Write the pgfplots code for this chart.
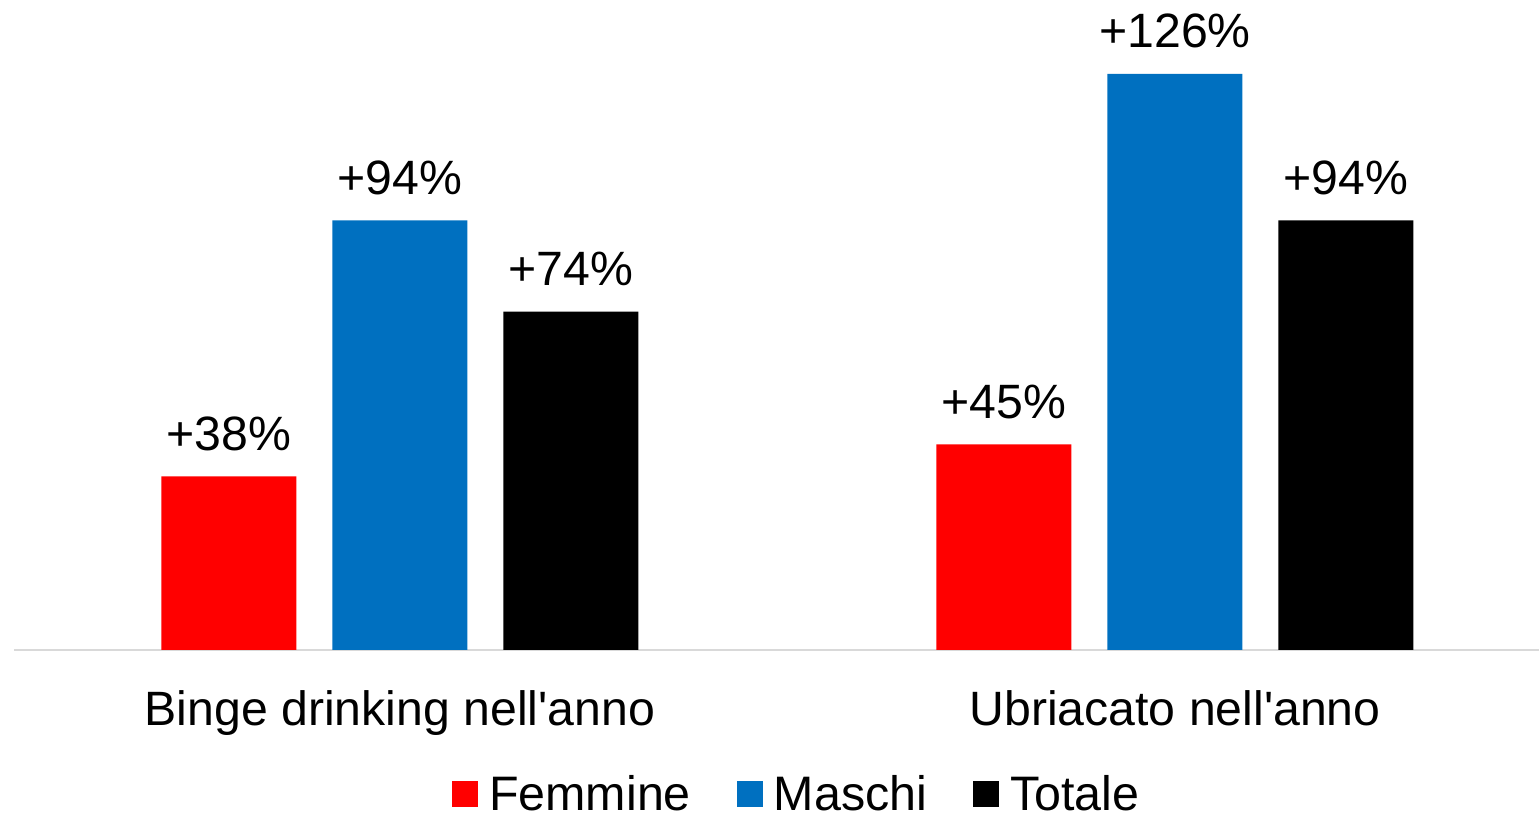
\documentclass[border=0pt]{standalone}
\usepackage{fontspec}
\setmainfont{Liberation Sans}
\usepackage{pgfplots}
\pgfplotsset{compat=1.18}
\definecolor{cRed}{HTML}{FF0000}
\definecolor{cBlue}{HTML}{0070C0}
\definecolor{cBlack}{HTML}{000000}
\definecolor{cAxis}{HTML}{D9D9D9}
\begin{document}
\begin{tikzpicture}
\begin{axis}[
  at={(0,0)}, anchor=south west,
  scale only axis,
  width=762.5pt, height=320pt,
  ybar=18pt, bar width=67.5pt,
  xmin=-0.498, xmax=1.4697,
  ymin=0, ymax=140,
  xtick={0,1},
  xticklabels={Binge drinking nell\textquotesingle anno, Ubriacato nell\textquotesingle anno},
  ytick=\empty,
  major tick length=0pt,
  axis x line*=bottom,
  axis y line=none,
  x axis line style={-, draw=cAxis, line width=1.2pt},
  xticklabel style={anchor=base, yshift=-38pt, inner sep=0pt, font=\fontsize{24.1}{28}\selectfont},
  /pgf/number format/assume math mode=true,
  nodes near coords={+\pgfmathprintnumber[int detect]{\pgfplotspointmeta}\%},
  every node near coord/.append style={anchor=base, yshift=13pt, inner sep=0pt, font=\fontsize{24.1}{28}\selectfont, text=black},
  legend columns=3,
  legend style={draw=none, fill=none, at={(axis description cs:0.5146,-0.2255)}, anchor=center,
    font=\fontsize{24.2}{28}\selectfont,
    inner sep=0pt,
    /tikz/every even column/.append style={column sep=20pt},
    /tikz/every odd column/.append style={column sep=2.5pt},
    nodes={inner xsep=3pt, inner ysep=0pt}},
  legend image code/.code={\fill[#1] (0pt,-6.5pt) rectangle (13pt,6.5pt);},
  clip=false,
]
\addplot[fill=cRed, draw=none] coordinates {(0,38) (1,45)};
\addplot[fill=cBlue, draw=none] coordinates {(0,94) (1,126)};
\addplot[fill=cBlack, draw=none] coordinates {(0,74) (1,94)};
\legend{Femmine, Maschi, Totale}
\end{axis}
\pgfresetboundingbox
\path[use as bounding box] (-7pt,-81.5pt) rectangle (762.5pt,325pt);
\end{tikzpicture}
\end{document}
